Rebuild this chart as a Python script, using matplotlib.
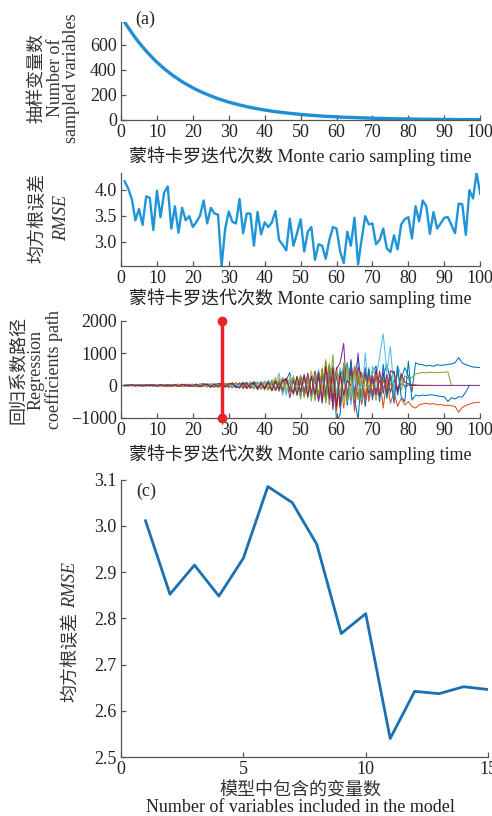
import matplotlib
matplotlib.use('agg')
import matplotlib.pyplot as plt

plt.rcParams['font.family'] = ['Liberation Serif', 'Noto Sans CJK SC']
plt.rcParams['font.size'] = 13
plt.rcParams['axes.unicode_minus'] = True

# 蒙特卡罗迭代次数
iters = list(range(1, 101))

# (a) 抽样变量数
n_vars = [780, 736, 694, 654, 617, 582, 549, 518, 488, 460,
          434, 409, 386, 364, 343, 324, 305, 288, 272, 256,
          241, 228, 215, 203, 191, 180, 170, 160, 151, 142,
          134, 127, 119, 113, 106, 100, 94, 89, 84, 79,
          75, 70, 66, 63, 59, 56, 53, 50, 47, 44,
          42, 39, 37, 35, 33, 31, 29, 28, 26, 25,
          23, 22, 21, 20, 19, 18, 17, 16, 15, 14,
          13, 12, 12, 11, 10, 10, 9, 9, 8, 8,
          7, 7, 6, 6, 6, 5, 5, 5, 4, 4,
          4, 4, 3, 3, 3, 3, 3, 2, 2, 2]

# 均方根误差 (随迭代)
rmse_iter = [4.16, 4.02, 3.82, 3.41, 3.63, 3.32, 3.87, 3.84, 3.22, 3.98,
             3.47, 3.94, 4.06, 3.25, 3.68, 3.17, 3.65, 3.41, 3.49, 3.28,
             3.38, 3.50, 3.79, 3.35, 3.65, 3.54, 3.52, 2.53, 3.25, 3.58,
             3.38, 3.35, 3.82, 3.16, 3.54, 3.54, 2.92, 3.57, 3.14, 3.37,
             3.28, 3.37, 3.59, 3.03, 2.94, 2.83, 3.44, 2.92, 3.16, 3.43,
             2.81, 3.19, 3.28, 2.65, 2.95, 2.92, 2.67, 3.03, 3.28, 3.25,
             2.81, 2.59, 3.19, 2.92, 3.46, 2.56, 3.05, 3.49, 3.33, 3.35,
             2.95, 3.03, 3.25, 2.87, 2.80, 3.12, 2.85, 3.33, 3.43, 3.47,
             3.06, 3.68, 3.39, 3.79, 3.68, 3.15, 3.57, 3.25, 3.35, 3.46,
             3.47, 3.32, 3.16, 3.73, 3.72, 3.13, 3.99, 3.83, 4.32, 3.92]

# 回归系数路径, 每条路径从第1次迭代开始
path1 = [5, -8, 12, 3, -15, 10, 20, -5, 8, 15,
         -10, 25, 18, -20, 30, 12, -15, 35, 20, 10,
         40, -25, 30, 55, 15, -30, 45, 60, 20, 50,
         -40, 70, 35, 90, -20, 60, 110, 40, 80, -50,
         120, 60, 150, 90, -80, 180, 100, 220, 40, 160,
         250, -100, 300, 150, 380, -150, 450, 200, 600, -300,
         500, 200, 700, -400, 350, 800, 100, 550, -200, 400,
         600, -350, 300, 650, 150, 450, -300, 200, 550, 300,
         -200, 700, 650, 640, 600, 620, 590, 640, 620, 630,
         650, 660, 700, 860, 700, 640, 600, 570, 560, 550]
path2 = [-5, 10, -12, 6, -8, 15, -10, 4, -18, 12,
         20, -15, 10, -25, 18, -30, 25, -10, 30, -35,
         20, -40, 35, -20, 50, -45, 30, -60, 40, -55,
         70, -30, -80, 50, -90, 40, -110, 70, -60, 100,
         -130, 80, -150, 60, -200, 120, -180, 200, -250, 90,
         -300, 150, -350, 250, -450, 300, -500, 200, -650, 400,
         -700, 300, -400, 500, -800, 200, -600, 350, -500, 150,
         -450, 300, -700, 200, -550, -200, -650, -400, -600, -500,
         -650, -700, -600, -570, -550, -580, -560, -600, -590, -620,
         -610, -630, -650, -830, -680, -620, -580, -540, -530, -520]
path3 = [10, -5, 8, -12, 15, -8, 20, -15, 10, -20,
         25, -10, 30, -25, 15, -35, 20, 40, -30, 25,
         -45, 35, -20, 60, -40, 30, -70, 50, -35, 80,
         -60, 40, -90, 70, -50, 120, -80, 60, -130, 100,
         -70, 150, -120, 250, -100, 180, -200, 300, -150, 220,
         -250, 350, -200, 400, -300, 550, -150, 700, -450, 300,
         -350, 500, -250, 600, -500, 400, -300, 450, -200, 350,
         -400, 250, -150, 300, -250, 200, -100, 150, -80, 60,
         -40, 30, 10, 0, 5, 0, 0]
path4 = [-10, 5, -15, 8, -5, 12, -20, 6, 15, -8,
         -20, 15, -25, 30, -10, 20, -40, 25, -15, 35,
         -30, 45, -20, 35, -55, 25, 60, -40, 30, -50,
         80, -45, 60, -100, 50, -70, 90, -130, 40, 110,
         -90, 140, -160, 100, -120, 200, -380, 150, -220, 280,
         -200, 300, -350, 250, -400, 450, -300, 600, -750, 500,
         700, 1300, -600, 800, -300, 1000, -500, 400, -350, 250,
         -300, 450, -250, 350, -200, 150, -100, 50, 0, 0,
         0, 0, 0, 0, 0, 0, 0, 0, 0, 0,
         0, 0, 0, 0, 0, 0, 0, 0, 0, 0]
path5 = [8, 15, -10, 20, -12, 5, -18, 25, -8, 12,
         -15, 30, -20, 10, 35, -25, 15, -30, 40, -10,
         25, -50, 40, -30, 55, -20, 45, -65, 30, 70,
         -40, 90, -75, 50, 100, -60, 120, -90, 70, -140,
         110, -160, 200, -90, 250, -180, 130, -300, 200, -420,
         350, -250, 450, -480, 300, -350, 800, -200, 950, -700,
         400, -550, 650, -300, 500, -450, 300, -600, 550, -400,
         450, -300, 200, -350, 350, -250, 400, -150, 300, 200,
         250, 350, 380, 400, 390, 410, 400, 395, 400, 410,
         420, 0]
path6 = [-5, 12, -8, 18, -12, 8, 15, -20, 10, -6,
         18, -22, 12, 28, -15, 35, -25, 20, -40, 30,
         -20, 50, -35, 25, -45, 60, -30, 40, -55, 35,
         60, -80, 45, -50, 90, -70, 110, -40, 130, -100,
         150, -120, 90, 380, -300, 200, -150, 250, -280, 180,
         -220, 300, -350, 200, 450, -400, 300, -500, 250, -450,
         550, -350, 400, -600, 250, 700, -450, 1000, -300, 600,
         200, 900, 1600, 400, 1200, -200, 600, 300, -100, 0]
path7 = [12, -10, 6, -15, 20, -8, 10, -12, 25, -18,
         8, 22, -30, 15, -20, 40, -12, 28, -35, 20,
         -40, 30, 55, -25, 40, -50, 35, 65, -45, 25,
         -70, 55, -40, 85, -90, 60, -50, 100, -80, 120,
         -110, 90, -150, 130, -170, 220, -140, 180, -260, 300,
         -330, 250, -300, 380, -420, 500, -350, 620, -400, 550,
         -650, 600, -450, 700, -500, 550, 300, -400, 450, -300,
         500, -350, 400, -250, 450, 400, -200, 350, 100, 50,
         20, 0]
path8 = [-12, 8, -4, 14, -10, 18, -6, 10, -15, 5,
         12, -18, 25, -12, -28, 18, 32, -22, 14, -30,
         35, -15, -40, 30, 20, -55, 45, -35, 65, -25,
         50, -65, 80, -45, 70, -95, 55, 75, -110, 85,
         -120, 160, -100, 130, -210, 170, 400, -250, 150, -300,
         280, -320, 400, -380, 300, -550, 700, -450, 600, -1100,
         -900, 450, -600, 750, -400, -1050, 350, -650, 500, -450,
         350, -500, 650, -400, 300, -550, 600, -350, -500, 750,
         -450, -300, -320, -300, -310, -290, -300, -320, -340, -350,
         -500, -380, -420, -350, -360, -200, 0]
path9 = [6, -14, 10, -6, 16, -10, 4, 18, -12, 8,
         -16, 10, 20, -28, 24, -12, -30, 22, 35, -18,
         28, -38, 18, 45, -30, 55, -20, -50, 40, 30,
         -65, 45, 70, -55, 40, -85, 75, -60, 95, -70,
         85, -140, 110, -90, 200, -160, 120, -230, 260, -190,
         230, -280, 330, -250, 400, -350, 480, -600, 300, -800,
         450, -700, 350, -450, 600, -350, 400, -500, 300, -250,
         350, -200, 150, -100, 50, 0]
path10 = [-8, 12, -16, 4, 10, -14, 18, -4, 6, -12,
          14, -26, 8, 20, -32, 28, 12, -20, 26, -38,
          15, 42, -28, -35, 52, -18, 38, -42, 58, -30,
          40, 75, -55, 65, -40, 95, -75, 50, -85, 140,
          -60, 110, 250, -180, 150, -200, 280, -150, 180, -260,
          300, -200, 420, -350, 450, -250, 650, -500, 700, -350,
          500, -550, 400, -300, 350, -200, 250, -150, 80, 0]
path11 = [4, -12, 14, -8, 6, -16, 12, 20, -6, -14,
          10, -8, -22, 26, 12, -34, 20, 15, -28, 38,
          -25, 20, 40, -48, 26, 38, -52, 20, 45, -62,
          35, 55, -70, 40, 75, -50, 95, -85, 60, -115,
          140, -95, 120, -170, 100, 190, -150, 240, -310, 200,
          -250, 380, -300, 450, -500, 350, -420, 550, -600, 400,
          -500, 650, -350, 450, -550, 350, -300, 450, -250, 300,
          -200, 150, -50, 0]
path12 = [-6, 10, 4, -12, 16, -4, -10, 14, -18, 6,
          20, -12, 6, -20, 32, -16, 26, -34, 10, 24,
          -32, 18, 40, -28, -46, 36, 24, -50, 38, -20,
          -55, 70, -45, 80, -65, 50, -100, 80, -70, 90,
          -150, 130, -110, 180, -230, 150, -200, 260, -170, 320,
          -380, 250, -480, 350, -300, 480, -550, 650, -250, 450,
          -350, 700, -500, 300, -450, 400, -300, 250, -150, 50,
          0]
path13 = [14, -6, -10, 12, -18, 8, 16, -10, 4, 20,
          -12, 26, -18, 14, 22, -30, 10, -24, 32, -14,
          44, -22, 30, -40, 18, 48, -38, 25, -48, 60,
          -35, 50, -85, 65, -55, 80, -60, 110, -45, 75,
          130, -100, 160, -140, 110, -300, 200, -180, 220, -250,
          340, -400, 300, -250, 500, -450, 350, -500, 650, -300,
          500, -400, 300, -350, 250, -150, 50, 0]
path14 = [-14, 6, 18, -10, 8, -20, 14, -6, 12, -16,
          24, -20, 16, -12, 28, -26, 38, -14, 20, -28,
          32, -36, 22, 30, -50, 40, -28, 55, -40, 45,
          65, -50, -60, 75, -85, 45, 70, -95, 55, -80,
          100, -170, 140, -120, 160, 210, -130, -220, 280, -200,
          320, -350, 280, -300, 400, -500, 600, -400, 550, -650,
          400, -300, 150, 0]
coef_paths = [path1, path2, path3, path4, path5, path6, path7,
              path8, path9, path10, path11, path12, path13, path14]
path_colors = ['#0072BD', '#D95319', '#EDB120', '#7E2F8E', '#77AC30', '#4DBEEE', '#A2142F']

# (c) 模型中包含的变量数与均方根误差
n_model = list(range(1, 16))
rmse_model = [3.011, 2.852, 2.915, 2.848, 2.930, 3.085, 3.050, 2.960,
              2.767, 2.810, 2.540, 2.642, 2.637, 2.652, 2.646]

xlab = '蒙特卡罗迭代次数 Monte cario sampling time'
W, H = 492.0, 816.0


def style(ax):
    ax.spines['top'].set_visible(False)
    ax.spines['right'].set_visible(False)
    for s in ['left', 'bottom']:
        ax.spines[s].set_color('#555555')
        ax.spines[s].set_linewidth(0.9)
    ax.tick_params(direction='in', length=3.5, width=0.9, colors='#555555',
                   labelcolor='#222222', labelsize=13, pad=3)


# 竖排的纵轴标题, 每行单独放 (x, y 为像素位置)
def side_label(lines, xs, yc):
    for (txt, italic), x in zip(lines, xs):
        fig.text(x / W, 1 - yc / H, txt, rotation=90, ha='center', va='center',
                 color='#333333', style='italic' if italic else 'normal')


fig = plt.figure(figsize=(4.92, 8.16), dpi=100)

# (a)
ax1 = fig.add_axes([0.246, 0.853, 0.730, 0.120])
ax1.plot(iters, n_vars, color='#1f8fd4', linewidth=2.4)
ax1.set_xlim(0, 100)
ax1.set_ylim(0, max(n_vars))
ax1.set_xticks(range(0, 101, 10))
ax1.set_yticks([0, 200, 400, 600])
ax1.set_xlabel(xlab, labelpad=4, color='#222222')
style(ax1)
side_label([('抽样变量数', False), ('Number of', False), ('sampled variables', False)],
           [38, 55, 72], 78)
fig.text(135 / W, 1 - 19 / H, '(a)', ha='left', va='center', color='#222222')

# 均方根误差随迭代
ax2 = fig.add_axes([0.246, 0.674, 0.730, 0.114])
ax2.plot(iters, rmse_iter, color='#1f95d8', linewidth=1.7)
ax2.set_xlim(0, 100)
ax2.set_ylim(min(rmse_iter), max(rmse_iter))
ax2.set_xticks(range(0, 101, 10))
ax2.set_yticks([3.0, 3.5, 4.0])
ax2.set_xlabel(xlab, labelpad=1, color='#222222')
style(ax2)
side_label([('均方根误差', False), ('RMSE', True)], [38, 62], 218)

# 回归系数路径
ax3 = fig.add_axes([0.246, 0.488, 0.730, 0.119])
for k, p in enumerate(coef_paths):
    ax3.plot(iters[:len(p)], p, color=path_colors[k % 7], linewidth=0.75)
best = rmse_iter.index(min(rmse_iter)) + 1
ax3.plot([best, best], [2000, -1000], color='#e8212b', linewidth=2.5,
         marker='o', markersize=6, clip_on=False, zorder=5)
ax3.set_xlim(0, 100)
ax3.set_ylim(-1000, 2000)
ax3.set_xticks(range(0, 101, 10))
ax3.set_yticks([-1000, 0, 1000, 2000])
ax3.set_xlabel(xlab, labelpad=4, color='#222222')
style(ax3)
side_label([('回归系数路径', False), ('Regression', False), ('coefficients path', False)],
           [19, 36, 54], 370)

# (c)
ax4 = fig.add_axes([0.246, 0.0723, 0.746, 0.340])
ax4.plot(n_model, rmse_model, color='#1a70b0', linewidth=2.0)
ax4.set_xlim(0, 15)
ax4.set_ylim(2.5, 3.1)
ax4.set_xticks([0, 5, 10, 15])
ax4.set_yticks([2.5, 2.6, 2.7, 2.8, 2.9, 3.0, 3.1])
style(ax4)
fig.text(300 / W, 1 - 791 / H, '模型中包含的变量数', ha='center', va='center',
         color='#333333')
fig.text(300 / W, 1 - 807 / H, 'Number of variables included in the model',
         ha='center', va='center', color='#222222')
fig.text(71 / W, 1 - 657 / H, '均方根误差', rotation=90, ha='center', va='center',
         color='#333333')
fig.text(71 / W, 1 - 585 / H, 'RMSE', rotation=90, ha='center', va='center',
         color='#333333', style='italic')
fig.text(136 / W, 1 - 491 / H, '(c)', ha='left', va='center', color='#222222')

plt.savefig('out.png', dpi=100)
plt.close()
